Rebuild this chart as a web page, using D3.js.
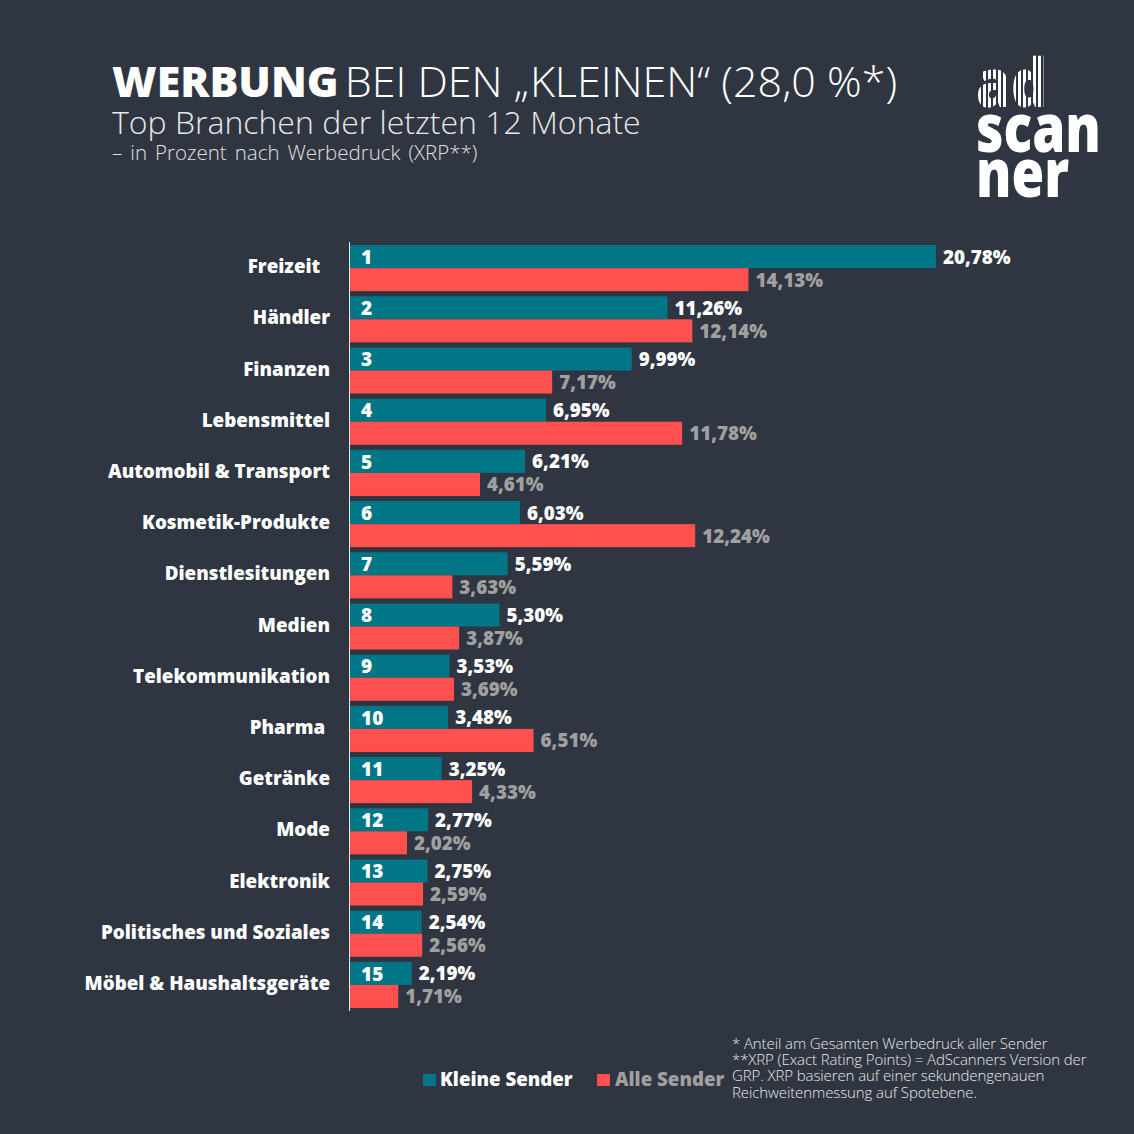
<!DOCTYPE html>
<html>
<head>
<meta charset="utf-8">
<script src="https://cdnjs.cloudflare.com/ajax/libs/d3/7.8.5/d3.min.js"></script>
<style>
  html, body { margin: 0; padding: 0; background: #2f3541; }
  svg { display: block; }
  text { font-family: "Open Sans", sans-serif; white-space: pre; }
</style>
</head>
<body>
<div id="chart"></div>
<script>
var categories = ['Freizeit  ', 'Händler', 'Finanzen', 'Lebensmittel', 'Automobil & Transport',
  'Kosmetik-Produkte', 'Dienstlesitungen', 'Medien', 'Telekommunikation', 'Pharma ',
  'Getränke', 'Mode', 'Elektronik', 'Politisches und Soziales', 'Möbel & Haushaltsgeräte'];
var kleineSender = [20.78, 11.26, 9.99, 6.95, 6.21, 6.03, 5.59, 5.30, 3.53, 3.48, 3.25, 2.77, 2.75, 2.54, 2.19];
var alleSender = [14.13, 12.14, 7.17, 11.78, 4.61, 12.24, 3.63, 3.87, 3.69, 6.51, 4.33, 2.02, 2.59, 2.56, 1.71];
var seriesNames = ['Kleine Sender', 'Alle Sender'];
var footnotes = ['* Anteil am Gesamten Werbedruck aller Sender',
  '**XRP (Exact Rating Points) = AdScanners Version der',
  'GRP. XRP basieren auf einer sekundengenauen',
  'Reichweitenmessung auf Spotebene.'];

var W = 1134, H = 1134;
var teal = '#007687', red = '#ff5050', grey = '#a0a0a0', bg = '#2f3541';

var svg = d3.select('#chart').append('svg').attr('width', W).attr('height', H);
svg.append('rect').attr('width', W).attr('height', H).attr('fill', bg);

// scales
var x = d3.scaleLinear().domain([0, 20.78]).range([350, 936]);
var y = d3.scaleBand().domain(categories).range([242.5, 1010.5]).paddingInner(0.1).paddingOuter(0.05);
var fmt = function(v) { return v.toFixed(2).replace('.', ',') + '%'; };

// titles
var title = svg.append('text').attr('x', 112).attr('y', 97).attr('font-size', 43).attr('fill', '#fff');
title.append('tspan').attr('font-weight', 800).text('WERBUNG');
title.append('tspan').attr('font-weight', 300).attr('dx', -5).text(' BEI DEN „KLEINEN“ (28,0 %*)');
svg.append('text').attr('x', 112).attr('y', 134).attr('font-size', 32).attr('font-weight', 300)
  .attr('fill', '#e8e8e8').text('Top Branchen der letzten 12 Monate');
svg.append('text').attr('x', 112).attr('y', 160).attr('font-size', 20.5).attr('font-weight', 300)
  .attr('word-spacing', 2.7).attr('fill', '#e0e0e0').text('– in Prozent nach Werbedruck (XRP**)');

// bars
var rows = svg.selectAll('g.row').data(categories).enter().append('g').attr('class', 'row')
  .attr('transform', function(d) { return 'translate(0,' + y(d) + ')'; });
var bh = y.bandwidth() / 2;

rows.append('rect').attr('x', x(0)).attr('y', 0).attr('height', bh)
  .attr('width', function(d, i) { return x(kleineSender[i]) - x(0); }).attr('fill', teal);
rows.append('rect').attr('x', x(0)).attr('y', bh).attr('height', bh)
  .attr('width', function(d, i) { return x(alleSender[i]) - x(0); }).attr('fill', red);

rows.append('text').attr('x', 330).attr('y', bh - 1.5).attr('dy', '0.35em').attr('text-anchor', 'end')
  .attr('font-size', 18.8).attr('font-weight', 800).attr('fill', '#fff').text(function(d) { return d; });
rows.append('text').attr('x', 361).attr('y', bh / 2 + 0.5).attr('dy', '0.35em')
  .attr('font-size', 19).attr('font-weight', 800).attr('fill', '#fff').text(function(d, i) { return i + 1; });
rows.append('text').attr('x', function(d, i) { return x(kleineSender[i]) + 7; }).attr('y', bh / 2 + 0.5).attr('dy', '0.35em')
  .attr('font-size', 18.8).attr('font-weight', 800).attr('fill', '#fff').text(function(d, i) { return fmt(kleineSender[i]); });
rows.append('text').attr('x', function(d, i) { return x(alleSender[i]) + 7; }).attr('y', bh * 1.5 + 0.5).attr('dy', '0.35em')
  .attr('font-size', 18.8).attr('font-weight', 800).attr('fill', grey).text(function(d, i) { return fmt(alleSender[i]); });

// baseline
svg.append('line').attr('x1', 349.5).attr('x2', 349.5).attr('y1', 242).attr('y2', 1011)
  .attr('stroke', '#e8e8e8').attr('stroke-width', 1);

// legend
svg.append('rect').attr('x', 423).attr('y', 1074).attr('width', 13).attr('height', 12).attr('fill', teal);
svg.append('text').attr('x', 440).attr('y', 1086).attr('font-size', 18.7).attr('font-weight', 800).attr('fill', '#fff').text(seriesNames[0]);
svg.append('rect').attr('x', 597).attr('y', 1074).attr('width', 13).attr('height', 12).attr('fill', red);
svg.append('text').attr('x', 615).attr('y', 1086).attr('font-size', 18.7).attr('font-weight', 800).attr('fill', grey).text(seriesNames[1]);

// footnotes
svg.selectAll('text.note').data(footnotes).enter().append('text').attr('class', 'note')
  .attr('x', 732).attr('y', function(d, i) { return 1049 + i * 16.2; })
  .attr('font-size', 15).attr('letter-spacing', -0.1).attr('font-weight', 300).attr('fill', '#e8e8e8').text(function(d) { return d; });

// logo
var logo = svg.append('g').attr('fill', '#fff').attr('font-weight', 800).attr('font-size', 68);
logo.append('text').attr('x', 976).attr('y', 107).attr('textLength', 71).attr('lengthAdjust', 'spacingAndGlyphs').text('ad');
d3.range(0, 14).forEach(function(i) {
  svg.append('rect').attr('x', 981 + i * 5).attr('y', 55).attr('width', 2).attr('height', 54).attr('fill', bg);
});
logo.append('text').attr('x', 976).attr('y', 152).attr('textLength', 125).attr('lengthAdjust', 'spacingAndGlyphs').text('scan');
logo.append('text').attr('x', 976).attr('y', 197).attr('textLength', 93).attr('lengthAdjust', 'spacingAndGlyphs').text('ner');
</script>
</body>
</html>
